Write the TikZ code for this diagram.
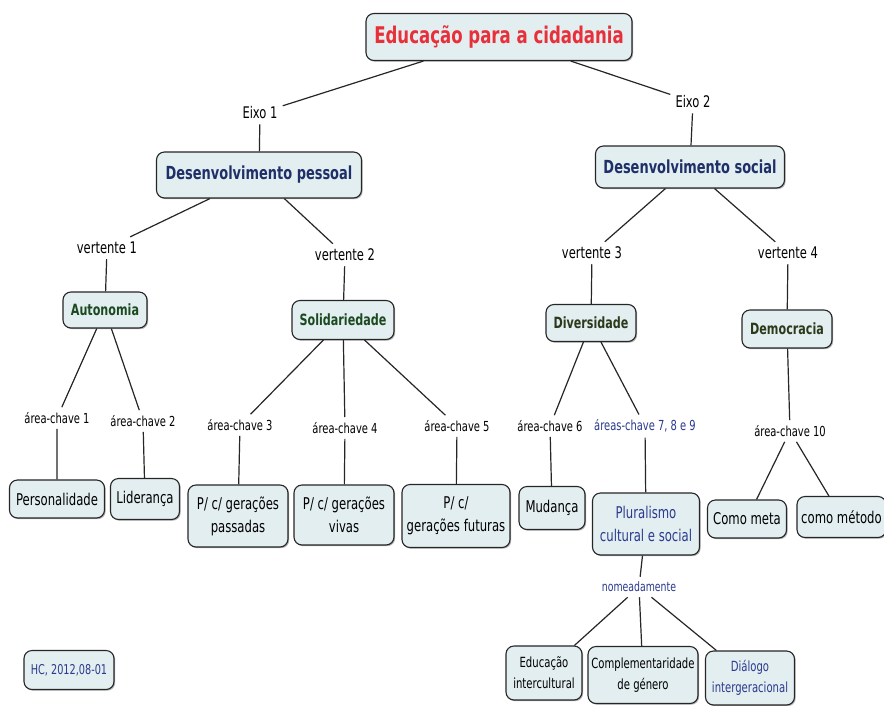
\documentclass[tikz,border=0pt]{standalone}
\usepackage{fontspec}
\setmainfont{DejaVu Sans}[FakeStretch=0.72]
\usetikzlibrary{shadows}
\definecolor{boxfill}{HTML}{E3EEF0}
\definecolor{titlered}{HTML}{E8303A}
\definecolor{navy}{HTML}{1F2F68}
\definecolor{dgreen}{HTML}{1B4A20}
\definecolor{olive}{HTML}{2C3A1C}
\definecolor{lblue}{HTML}{2B3A8E}
\tikzset{
  box/.style={draw=black!85, fill=boxfill, rounded corners=8pt, line width=1.1pt,
    align=center, inner sep=2pt, drop shadow={shadow xshift=1.2pt, shadow yshift=-1.2pt, opacity=0.5, fill=black!60}},
  lbl/.style={inner sep=5pt, font=\fontsize{16}{18}\selectfont},
  albl/.style={inner sep=5pt, font=\fontsize{13.8}{16}\selectfont},
  conn/.style={draw=black!85, line width=1.2pt},
  btxt/.style={font=\fontsize{16.2}{23}\selectfont},
  stxt/.style={font=\fontsize{14}{21}\selectfont},
}
\begin{document}
\begin{tikzpicture}[x=1pt,y=-1pt]
\useasboundingbox (0,0) rectangle (884,705);
\fill[white] (0,0) rectangle (884,705);
% main boxes
\node[box, minimum width=266pt, minimum height=47pt, text=titlered, font=\fontsize{23}{26}\selectfont\bfseries] (title) at (499,37) {Educação para a cidadania};
\node[box, minimum width=205pt, minimum height=46pt, text=navy, font=\fontsize{18}{21}\selectfont\bfseries] (dp) at (259,175) {Desenvolvimento pessoal};
\node[box, minimum width=189pt, minimum height=42pt, text=navy, font=\fontsize{18}{21}\selectfont\bfseries] (ds) at (690,167) {Desenvolvimento social};
\node[box, minimum width=84pt, minimum height=36pt, text=dgreen, font=\fontsize{15.5}{18}\selectfont\bfseries] (auto) at (105,310) {Autonomia};
\node[box, minimum width=102pt, minimum height=39pt, text=dgreen, font=\fontsize{15.5}{18}\selectfont\bfseries] (soli) at (343,320) {Solidariedade};
\node[box, minimum width=90pt, minimum height=37pt, text=olive, font=\fontsize{15.5}{18}\selectfont\bfseries] (div) at (591,323) {Diversidade};
\node[box, minimum width=90pt, minimum height=38pt, text=olive, font=\fontsize{15.5}{18}\selectfont\bfseries] (demo) at (787,329) {Democracia};
% leaf boxes
\node[box, btxt, minimum width=95pt, minimum height=38pt] (pers) at (57,499) {Personalidade};
\node[box, btxt, minimum width=69pt, minimum height=41pt] (lid) at (145,499) {Liderança};
\node[box, btxt, minimum width=100pt, minimum height=62pt] (pas) at (238,516) {P/ c/ gerações\\passadas};
\node[box, btxt, minimum width=100pt, minimum height=60pt] (viv) at (344,515) {P/ c/ gerações\\vivas};
\node[box, btxt, minimum width=108pt, minimum height=63pt] (fut) at (456,516) {P/ c/\\gerações futuras};
\node[box, btxt, minimum width=66pt, minimum height=43pt] (mud) at (552,508) {Mudança};
\node[box, btxt, minimum width=107pt, minimum height=62pt, text=lblue] (plu) at (646,524) {Pluralismo\\cultural e social};
\node[box, btxt, minimum width=79pt, minimum height=38pt] (meta) at (747,519) {Como meta};
\node[box, btxt, minimum width=89pt, minimum height=41pt] (met) at (841.5,517) {como método};
\node[box, stxt, minimum width=76pt, minimum height=54pt] (edu) at (544,673) {Educação\\intercultural};
\node[box, stxt, minimum width=110pt, minimum height=57pt] (comp) at (643,675) {Complementaridade\\de género};
\node[box, stxt, minimum width=89pt, minimum height=54pt, text=lblue] (dia) at (750,678) {Diálogo\\intergeracional};
\node[box, font=\fontsize{13.5}{16}\selectfont, minimum width=90pt, minimum height=39pt, text=lblue] (hc) at (69,670) {HC, 2012,08-01};
% labels
\node[lbl] (e1) at (260,113) {Eixo 1};
\node[lbl] (e2) at (693,102) {Eixo 2};
\node[lbl] (v1) at (107,248) {vertente 1};
\node[lbl] (v2) at (345,255) {vertente 2};
\node[lbl] (v3) at (592,253) {vertente 3};
\node[lbl] (v4) at (788,253) {vertente 4};
\node[albl] (a1) at (57,418) {área-chave 1};
\node[albl] (a2) at (143,421) {área-chave 2};
\node[albl] (a3) at (240,425) {área-chave 3};
\node[albl] (a4) at (345,428) {área-chave 4};
\node[albl] (a5) at (457,426) {área-chave 5};
\node[albl] (a6) at (550,426) {área-chave 6};
\node[albl, text=lblue] (a7) at (645,426) {áreas-chave 7, 8 e 9};
\node[albl] (a10) at (790,431) {área-chave 10};
\node[albl, font=\fontsize{13}{15}\selectfont, text=lblue] (nom) at (639,587) {nomeadamente};
% connectors
\path[conn] (title) -- (e1) (e1) -- (dp);
\path[conn] (title) -- (e2) (e2) -- (ds);
\path[conn] (dp) -- (v1) (v1) -- (auto);
\path[conn] (dp) -- (v2) (v2) -- (soli);
\path[conn] (ds) -- (v3) (v3) -- (div);
\path[conn] (ds) -- (v4) (v4) -- (demo);
\path[conn] (auto) -- (a1) (a1) -- (pers);
\path[conn] (auto) -- (a2) (a2) -- (lid);
\path[conn] (soli) -- (a3) (a3) -- (pas);
\path[conn] (soli) -- (a4) (a4) -- (viv);
\path[conn] (soli) -- (a5) (a5) -- (fut);
\path[conn] (div) -- (a6) (a6) -- (mud);
\path[conn] (div) -- (a7) (a7) -- (plu);
\path[conn] (demo) -- (a10) (a10) -- (meta) (a10) -- (met);
\path[conn] (plu) -- (nom) (nom) -- (edu) (nom) -- (comp) (nom) -- (dia);
\end{tikzpicture}
\end{document}
